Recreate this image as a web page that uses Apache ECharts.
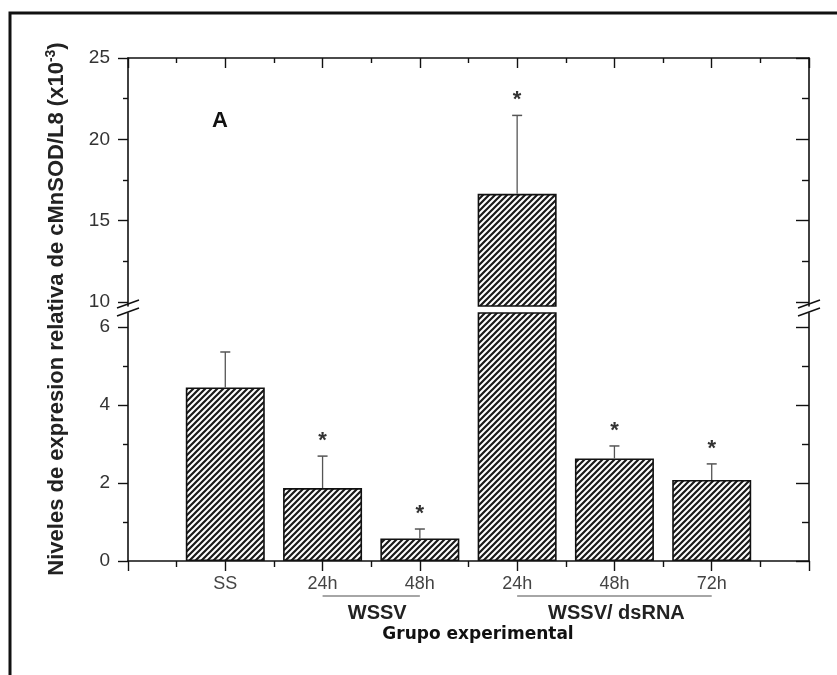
<!DOCTYPE html>
<html>
<head>
<meta charset="utf-8">
<script src="https://cdn.jsdelivr.net/npm/echarts@6/dist/echarts.min.js"></script>
<style>
html, body { margin: 0; padding: 0; background: #fff; }
#chart { width: 837px; height: 675px; }
</style>
</head>
<body>
<div id="chart"></div>
<script>
// grupos experimentales
var categorias = ['SS', '24h', '48h', '24h', '48h', '72h'];
var posiciones = [1, 2, 3, 4, 5, 6];
// niveles de expresion relativa (x10^-3) y su error
var valores = [4.45, 1.87, 0.58, 16.65, 2.63, 2.08];
var errores = [0.91, 0.82, 0.24, 4.82, 0.32, 0.41];
var significativo = [false, true, true, true, true, true];
// grupos bajo el eje x
var grupos = ['WSSV', 'WSSV/ dsRNA'];
var gruposDesde = [2, 4];
var gruposHasta = [3, 6];
// marcas de los ejes
var ticksArriba = [10, 15, 20, 25];
var menoresArriba = [12.5, 17.5, 22.5];
var ticksAbajo = [0, 2, 4, 6];
var menoresAbajo = [1, 3, 5];
var ticksX = [0, 1, 2, 3, 4, 5, 6, 7];
var menoresX = [0.5, 1.5, 2.5, 3.5, 4.5, 5.5, 6.5];

// corte del eje y
var maxAbajo = 6.36;
var minArriba = 9.75;

var negro = '#111';

//relleno rayado de las barras
function rayado() {
    var c = document.createElement('canvas');
    c.width = 6;
    c.height = 6;
    var ctx = c.getContext('2d');
    ctx.fillStyle = '#fff';
    ctx.fillRect(0, 0, 6, 6);
    ctx.strokeStyle = '#1a1a1a';
    ctx.lineWidth = 2.2;
    ctx.beginPath();
    ctx.moveTo(-3, 3); ctx.lineTo(3, -3);
    ctx.moveTo(0, 6); ctx.lineTo(6, 0);
    ctx.moveTo(3, 9); ctx.lineTo(9, 3);
    ctx.stroke();
    return c;
}
var patron = { image: rayado(), repeat: 'repeat' };

function ejeX(grid, pos, valores, largo, dentro, conLinea, conTexto) {
    return {
        gridIndex: grid, type: 'value', position: pos, min: 0, max: 7,
        axisLine: { show: conLinea, onZero: false, lineStyle: { color: negro, width: 1.6 } },
        axisTick: { show: true, inside: dentro, length: largo, customValues: valores,
            lineStyle: { color: negro, width: 1.4 } },
        axisLabel: conTexto ? {
            show: true, customValues: posiciones, margin: 14,
            fontFamily: 'Liberation Sans, Arial', fontSize: 18, color: '#444',
            formatter: function (v) { return categorias[posiciones.indexOf(v)] || ''; }
        } : { show: false },
        splitLine: { show: false }
    };
}

function ejeY(grid, pos, min, max, valores, largo, dentro, conLinea, conTexto) {
    return {
        gridIndex: grid, type: 'value', position: pos, min: min, max: max,
        axisLine: { show: conLinea, onZero: false, lineStyle: { color: negro, width: 1.6 } },
        axisTick: { show: true, inside: dentro, length: largo, customValues: valores,
            lineStyle: { color: negro, width: 1.4 } },
        axisLabel: conTexto ? {
            show: true, customValues: valores, margin: 18,
            fontFamily: 'Liberation Sans, Arial', fontSize: 19, color: '#333'
        } : { show: false },
        splitLine: { show: false }
    };
}

//barras de error con asterisco
function dibujarError(params, api) {
    var x = api.value(0), v = api.value(1), e = api.value(2), sig = api.value(3);
    var base = api.coord([x, v]);
    var tope = api.coord([x, v + e]);
    var hijos = [
        { type: 'line', shape: { x1: base[0], y1: base[1], x2: tope[0], y2: tope[1] },
          style: { stroke: '#555', lineWidth: 1.3 } },
        { type: 'line', shape: { x1: tope[0] - 5, y1: tope[1], x2: tope[0] + 5, y2: tope[1] },
          style: { stroke: '#555', lineWidth: 1.5 } }
    ];
    if (sig) {
        hijos.push({ type: 'text', x: tope[0], y: tope[1] - 15,
            style: { text: '*', fontSize: 22, fontWeight: 'bold', fontFamily: 'Liberation Sans, Arial',
                fill: '#333', align: 'center', verticalAlign: 'middle' } });
    }
    return { type: 'group', children: hijos };
}

function datosError(arriba) {
    var out = [];
    posiciones.forEach(function (p, i) {
        if ((valores[i] > maxAbajo) === arriba) {
            out.push([p, valores[i], errores[i], significativo[i] ? 1 : 0]);
        }
    });
    return out;
}

var chart = echarts.init(document.getElementById('chart'));

var option = {
    backgroundColor: '#fff',
    animation: false,
    grid: [
        { left: 128, top: 58, width: 681, height: 248, outerBoundsMode: 'none' },
        { left: 128, top: 313, width: 681, height: 248, outerBoundsMode: 'none' }
    ],
    xAxis: [
        ejeX(0, 'top', ticksX, 10, true, true, false),
        ejeX(0, 'top', menoresX, 5, true, false, false),
        ejeX(1, 'bottom', ticksX, 10, false, true, true),
        ejeX(1, 'bottom', menoresX, 6, false, false, false)
    ],
    yAxis: [
        ejeY(0, 'left', minArriba, 25, ticksArriba, 10, false, true, true),
        ejeY(0, 'left', minArriba, 25, menoresArriba, 5, false, false, false),
        ejeY(0, 'right', minArriba, 25, ticksArriba, 13, true, true, false),
        ejeY(0, 'right', minArriba, 25, menoresArriba, 7, true, false, false),
        ejeY(1, 'left', 0, maxAbajo, ticksAbajo, 10, false, true, true),
        ejeY(1, 'left', 0, maxAbajo, menoresAbajo, 5, false, false, false),
        ejeY(1, 'right', 0, maxAbajo, ticksAbajo, 13, true, true, false),
        ejeY(1, 'right', 0, maxAbajo, menoresAbajo, 7, true, false, false)
    ],
    series: [
        {
            type: 'bar', xAxisIndex: 0, yAxisIndex: 0, barWidth: 79, clip: true,
            itemStyle: { color: patron, borderColor: negro, borderWidth: 1.6 },
            data: posiciones.map(function (p, i) {
                return [p, valores[i] > maxAbajo ? valores[i] : '-'];
            })
        },
        {
            type: 'bar', xAxisIndex: 2, yAxisIndex: 4, barWidth: 79, clip: true,
            itemStyle: { color: patron, borderColor: negro, borderWidth: 1.6 },
            data: posiciones.map(function (p, i) { return [p, valores[i]]; })
        },
        {
            type: 'custom', xAxisIndex: 0, yAxisIndex: 0, renderItem: dibujarError,
            data: datosError(true), z: 5
        },
        {
            type: 'custom', xAxisIndex: 2, yAxisIndex: 4, renderItem: dibujarError,
            data: datosError(false), z: 5
        }
    ]
};
chart.setOption(option);

//elementos de texto y marcas de corte
var graficos = [
    { type: 'rect', shape: { x: 10, y: 13, width: 900, height: 700 },
      style: { fill: 'none', stroke: '#111', lineWidth: 3 } },
    { type: 'text', x: 220, y: 121,
      style: { text: 'A', fontSize: 22, fontWeight: 'bold', fontFamily: 'Liberation Sans, Arial',
          fill: '#111', align: 'center', verticalAlign: 'middle' } },
    { type: 'text', x: 57, y: 309, rotation: Math.PI / 2,
      style: {
          text: '{a|Niveles de expresion relativa de cMnSOD/L8 (x10}{s|-3}{a|)}',
          align: 'center', verticalAlign: 'middle',
          rich: {
              a: { fontSize: 22, fontWeight: 'bold', fontFamily: 'Liberation Sans, Arial', fill: '#222', lineHeight: 25 },
              s: { fontSize: 14, fontWeight: 'bold', fontFamily: 'Liberation Sans, Arial', fill: '#222', verticalAlign: 'top', lineHeight: 14 }
          }
      } },
    { type: 'text', x: 478, y: 635,
      style: { text: 'Grupo experimental', fontSize: 17, fontWeight: 'bold', fontFamily: 'DejaVu Sans',
          fill: '#111', align: 'center', verticalAlign: 'middle' } }
];

grupos.forEach(function (g, i) {
    var x1 = chart.convertToPixel({ xAxisIndex: 2 }, gruposDesde[i]);
    var x2 = chart.convertToPixel({ xAxisIndex: 2 }, gruposHasta[i]);
    graficos.push({ type: 'line', shape: { x1: x1, y1: 596, x2: x2, y2: 596 },
        style: { stroke: '#888', lineWidth: 1.5 } });
    graficos.push({ type: 'text', x: (x1 + x2) / 2 + (i === 0 ? 6 : 2), y: 613,
        style: { text: g, fontSize: 20, fontWeight: 'bold', fontFamily: 'Liberation Sans, Arial',
            fill: '#222', align: 'center', verticalAlign: 'middle' } });
});

// corte en los ejes izquierdo y derecho
[128, 809].forEach(function (x) {
    graficos.push({ type: 'rect', shape: { x: x - 2, y: 304, width: 4, height: 9 },
        style: { fill: '#fff' } });
    graficos.push({ type: 'line', shape: { x1: x - 11, y1: 308, x2: x + 11, y2: 300 },
        style: { stroke: negro, lineWidth: 1.5 } });
    graficos.push({ type: 'line', shape: { x1: x - 11, y1: 316, x2: x + 11, y2: 308 },
        style: { stroke: negro, lineWidth: 1.5 } });
});

chart.setOption({ graphic: graficos });
</script>
</body>
</html>
